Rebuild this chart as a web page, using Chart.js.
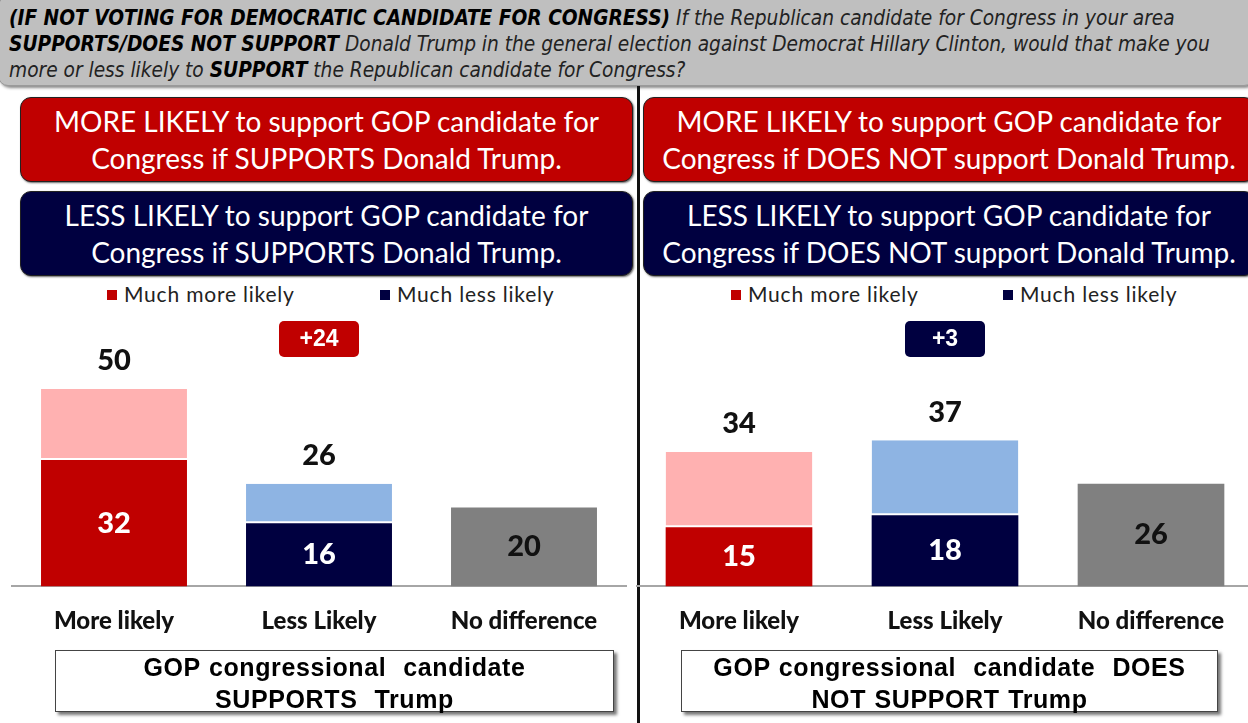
<!DOCTYPE html>
<html>
<head>
<meta charset="utf-8">
<script src="https://cdn.jsdelivr.net/npm/chart.js"></script>
<style>
  body {
    margin: 0;
    width: 1248px;
    height: 723px;
    overflow: hidden;
    position: relative;
    background: #fff;
    font-family: Lato, "Open Sans", sans-serif;
  }
  #question {
    position: absolute;
    left: -2px;
    top: -4px;
    width: 1236px;
    height: 80px;
    padding: 8px 8px 0 10px;
    background: #bfbfbf;
    border: 1px solid #9a9a9a;
    border-radius: 10px;
    box-shadow: 2px 2px 3px #8a8a8a;
    font-family: "Liberation Sans Narrow", "DejaVu Sans Condensed", sans-serif;
    font-style: italic;
    font-size: 20.7px;
    line-height: 26px;
    color: #222;
    white-space: nowrap;
  }
  #question b { color: #000; }
  .divider {
    position: absolute;
    left: 637px;
    top: 86px;
    width: 3px;
    height: 637px;
    background: #111;
  }
  .box {
    position: absolute;
    height: 83px;
    border: 1px solid #222;
    border-radius: 11px;
    color: #fff;
    font-size: 28px;
    line-height: 37px;
    text-align: center;
    display: flex;
    align-items: center;
    justify-content: center;
    box-shadow: 1px 1px 2px #666;
    white-space: nowrap;
  }
  .red { background: #c00000; }
  .navy { background: #000040; }
  .legend {
    position: absolute;
    top: 281px;
    font-size: 21px;
    letter-spacing: 0.8px;
    color: #222;
    white-space: nowrap;
  }
  .legend i {
    display: inline-block;
    width: 10px;
    height: 10px;
    margin-right: 7px;
    vertical-align: 2px;
  }
  .chart-wrap {
    position: absolute;
    top: 300px;
    height: 368px;
  }
  .caption {
    position: absolute;
    top: 650px;
    height: 60px;
    border: 1px solid #444;
    background: #fff;
    box-shadow: 3px 3px 3px #777;
    font-family: "Liberation Sans", Arial, sans-serif;
    font-weight: bold;
    font-size: 25px;
    letter-spacing: 0.6px;
    word-spacing: 1px;
    line-height: 32px;
    text-align: center;
    white-space: pre;
    color: #000;
  }
</style>
</head>
<body>

<div id="question"><b>(IF NOT VOTING FOR DEMOCRATIC CANDIDATE FOR CONGRESS)</b> If the Republican candidate for Congress in your area<br><b>SUPPORTS/DOES NOT SUPPORT</b> Donald Trump in the general election against Democrat Hillary Clinton, would that make you<br>more or less likely to <b>SUPPORT</b> the Republican candidate for Congress?</div>

<div class="divider"></div>

<div class="box red" style="left:20px; top:97px; width:611px;">MORE LIKELY to support GOP candidate for<br>Congress if SUPPORTS Donald Trump.</div>
<div class="box navy" style="left:20px; top:191px; width:611px;">LESS LIKELY to support GOP candidate for<br>Congress if SUPPORTS Donald Trump.</div>
<div class="box red" style="left:643px; top:97px; width:610px;">MORE LIKELY to support GOP candidate for<br>Congress if DOES NOT support Donald Trump.</div>
<div class="box navy" style="left:643px; top:191px; width:610px;">LESS LIKELY to support GOP candidate for<br>Congress if DOES NOT support Donald Trump.</div>

<div class="legend" style="left:107px;"><i style="background:#c00000"></i>Much more likely</div>
<div class="legend" style="left:380px;"><i style="background:#000040"></i>Much less likely</div>
<div class="legend" style="left:731px;"><i style="background:#c00000"></i>Much more likely</div>
<div class="legend" style="left:1003px;"><i style="background:#000040"></i>Much less likely</div>

<div class="chart-wrap" style="left:0; width:638px;"><canvas id="supportsChart"></canvas></div>
<div class="chart-wrap" style="left:636px; width:618px;"><canvas id="notSupportChart"></canvas></div>

<div class="caption" style="left:55px; width:557px;">GOP congressional  candidate
SUPPORTS  Trump</div>
<div class="caption" style="left:681px; width:535px;">GOP congressional  candidate  DOES
NOT SUPPORT Trump</div>

<script>
const categories = ["More likely", "Less Likely", "No difference"];

// GOP candidate supports Trump
const supportsMuch = [32, 16, null];
const supportsTotal = [50, 26, 20];

// GOP candidate does not support Trump
const notSupportMuch = [15, 18, null];
const notSupportTotal = [34, 37, 26];

const RED = "#c00000";
const PINK = "#ffb1b1";
const NAVY = "#000040";
const LIGHT_BLUE = "#8eb4e3";
const GREY = "#808080";

// numbers on the bars plus the net badge over the middle bar
const barLabels = {
  id: "barLabels",
  afterDatasetsDraw(chart) {
    const ctx = chart.ctx;
    const totals = chart.options.plugins.barLabels.totals;
    const much = chart.getDatasetMeta(0).data;
    const rest = chart.getDatasetMeta(1).data;
    const none = chart.getDatasetMeta(2).data;
    const vals = chart.data.datasets;

    ctx.save();
    ctx.textAlign = "center";
    ctx.textBaseline = "middle";
    ctx.font = "900 29px Lato";

    for (let i = 0; i < 2; i++) {
      const m = much[i];
      ctx.fillStyle = "#fff";
      ctx.fillText(vals[0].data[i], m.x, (m.y + m.base) / 2);
      const r = rest[i];
      ctx.fillStyle = "#111";
      ctx.fillText(totals[i], r.x, r.y - 28);
    }
    const g = none[2];
    ctx.fillStyle = "#111";
    ctx.fillText(vals[2].data[2], g.x, (g.y + g.base) / 2);

    // net difference badge
    const diff = totals[0] - totals[1];
    const bx = chart.scales.x.getPixelForValue(1);
    const by = chart.chartArea.top + 21;
    ctx.fillStyle = diff >= 0 ? RED : NAVY;
    ctx.beginPath();
    ctx.roundRect(bx - 40, by, 80, 36, 5);
    ctx.fill();
    ctx.fillStyle = "#fff";
    ctx.font = "bold 23px 'Liberation Sans'";
    ctx.fillText("+" + Math.abs(diff), bx, by + 19);
    ctx.restore();
  }
};

function makeChart(id, much, totals, sidePad) {
  const rest = much.map((v, i) => (v == null ? null : totals[i] - v));
  const noDiff = totals.map((v, i) => (much[i] == null ? v : null));
  return new Chart(document.getElementById(id), {
    type: "bar",
    data: {
      labels: categories,
      datasets: [
        {
          label: "Much",
          data: much,
          backgroundColor: [RED, NAVY, GREY],
          borderWidth: 0
        },
        {
          label: "Somewhat",
          data: rest,
          backgroundColor: [PINK, LIGHT_BLUE, GREY],
          borderColor: "#fff",
          borderWidth: { bottom: 2 },
          borderSkipped: false
        },
        {
          label: "No difference",
          data: noDiff,
          backgroundColor: GREY,
          borderWidth: 0
        }
      ]
    },
    options: {
      responsive: true,
      maintainAspectRatio: false,
      animation: false,
      layout: { padding: { left: sidePad, right: sidePad, top: 0, bottom: 12.8 } },
      datasets: {
        bar: { categoryPercentage: 1, barPercentage: 0.712, grouped: false }
      },
      scales: {
        x: {
          stacked: true,
          grid: { display: false, drawTicks: false },
          border: { display: true, color: "#a6a6a6", width: 2 },
          ticks: {
            padding: 20,
            color: "#111",
            font: { family: "Lato", weight: "900", size: 24 }
          }
        },
        y: {
          stacked: true,
          display: false,
          min: 0,
          max: 72.5
        }
      },
      plugins: {
        legend: { display: false },
        tooltip: { enabled: false },
        barLabels: { totals: totals }
      }
    },
    plugins: [barLabels]
  });
}

makeChart("supportsChart", supportsMuch, supportsTotal, 11.5);
makeChart("notSupportChart", notSupportMuch, notSupportTotal, 0);
</script>
</body>
</html>
